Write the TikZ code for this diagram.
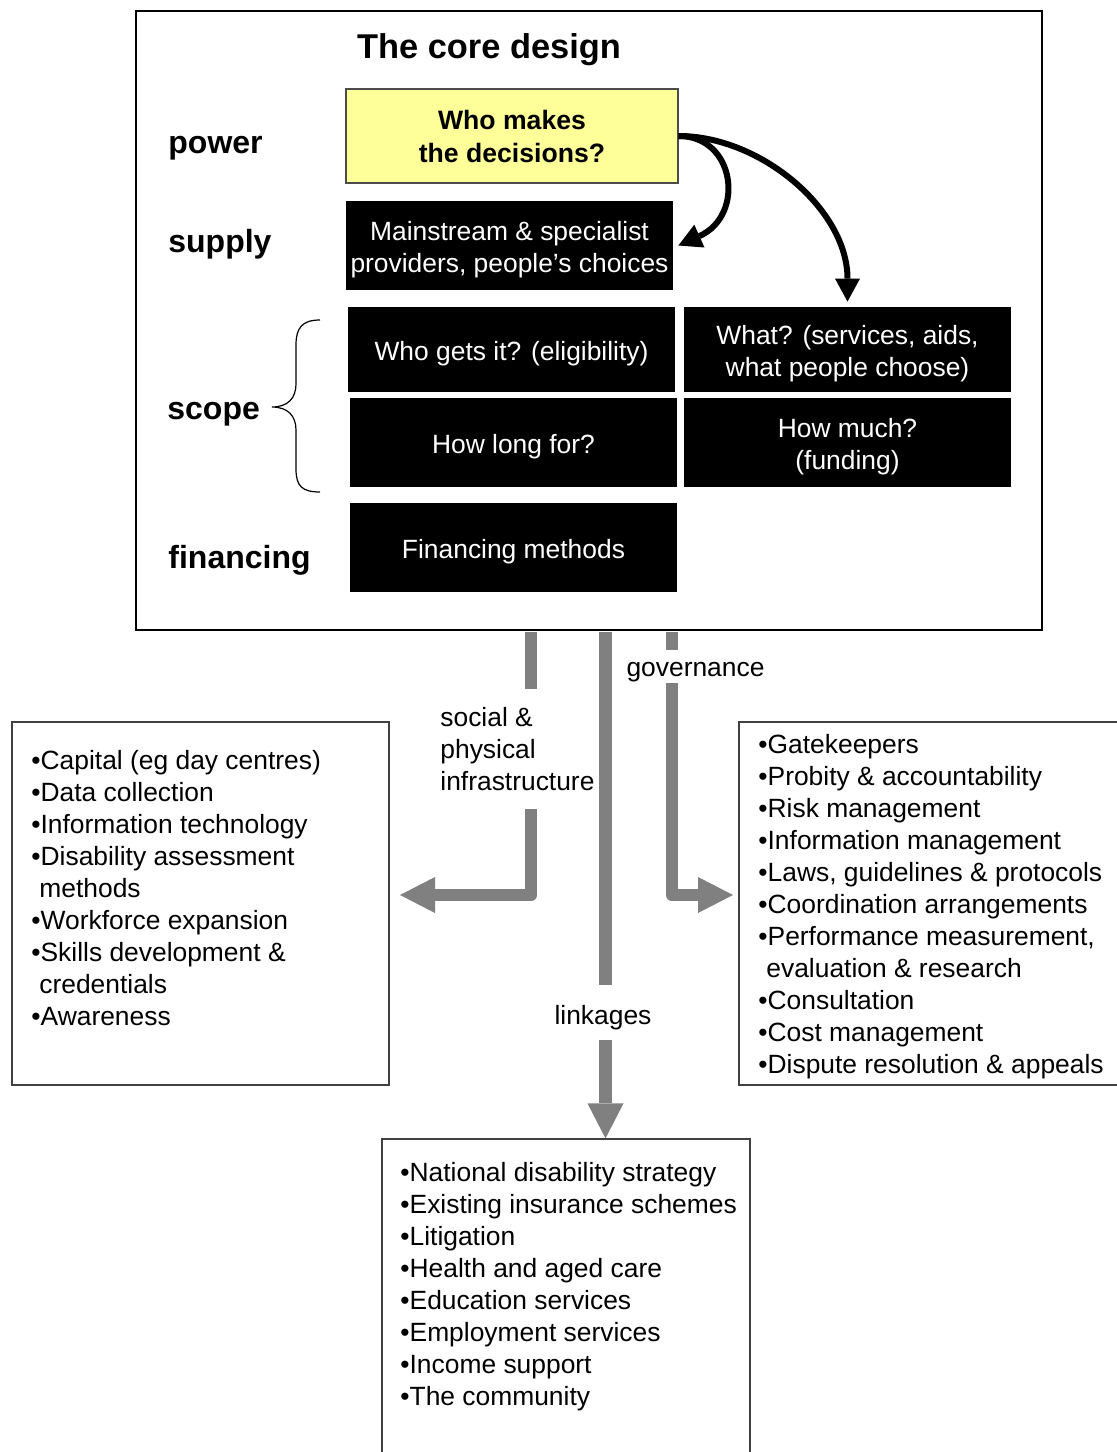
\documentclass[tikz,border=0pt]{standalone}
\usepackage{fontspec}
\setmainfont{Liberation Sans}
\usetikzlibrary{arrows.meta}
\definecolor{gline}{RGB}{128,128,128}
\definecolor{ybox}{RGB}{255,255,153}
\newcommand\fsbox{\fontsize{13.2pt}{16pt}\selectfont}
\newcommand\fstitle{\fontsize{17.2pt}{20pt}\selectfont\bfseries}
\newcommand\fslabel{\fontsize{16pt}{19pt}\selectfont\bfseries}
\newcommand\fsyellow{\fontsize{13.3pt}{16.5pt}\selectfont\bfseries}
\begin{document}
\begin{tikzpicture}[x=0.5pt,y=-0.5pt,
  frame/.style={draw=black,line width=1pt,inner sep=0pt},
  titletxt/.style={inner sep=0pt,font=\fstitle},
  rowlabel/.style={inner sep=0pt,font=\fslabel},
  yellowbox/.style={draw=black!70,line width=0.6pt,fill=ybox,inner sep=0pt,align=center,font=\fsyellow},
  blackbox/.style={fill=black,text=white,inner sep=0pt,minimum width=163.5pt,align=center,font=\fsbox},
  oneline/.style={text height=13.4pt},
  twoline/.style={text height=29.4pt},
  curvearrow/.style={line width=3pt,-{Triangle[length=11.5pt,width=12.5pt,line width=0pt]}},
  conlabel/.style={inner sep=0pt,font=\fsbox},
  gconn/.style={draw=gline,line width=6.25pt,line join=round},
  garrow/.style={-{Triangle[length=17.5pt,width=18pt,line width=0pt]}},
  listbox/.style={draw=black!75,line width=0.6pt,inner sep=0pt},
  listtext/.style={inner sep=0pt,font=\fsbox}]
\useasboundingbox (0,0) rectangle (1117,1452);
\clip (0,0) rectangle (1117,1452);
\fill[white] (0,0) rectangle (1117,1452);

% core frame
\node[frame,minimum width=453pt,minimum height=309.5pt] (core) at (589,320.5) {};
\node[titletxt,anchor=base] (title) at (489,58) {The core design};

\node[rowlabel,anchor=base west] (lpower) at (168,153) {power};
\node[rowlabel,anchor=base west] (lsupply) at (168,252) {supply};
\node[rowlabel,anchor=base west] (lscope) at (167,419) {scope};
\node[rowlabel,anchor=base west] (lfin) at (168,568) {financing};

\node[yellowbox,minimum width=166pt,minimum height=47pt] (who) at (512,136) {Who makes\\the decisions?};
\node[blackbox,twoline,minimum height=44.5pt] (supply) at (509.5,245.5) {Mainstream \& specialist\\providers, people’s choices};
\node[blackbox,oneline,minimum height=42.5pt] (elig) at (511.5,349.5) {Who gets it? (eligibility)};
\node[blackbox,twoline,minimum height=42.5pt] (what) at (847.5,349.5) {What? (services, aids,\\what people choose)};
\node[blackbox,oneline,minimum height=44.5pt] (howlong) at (513.5,442.5) {How long for?};
\node[blackbox,twoline,minimum height=44.5pt] (howmuch) at (847.5,442.5) {How much?\\(funding)};
\node[blackbox,oneline,minimum height=44.5pt] (fin) at (513.5,547.5) {Financing methods};

% brace
\draw[line width=0.6pt] (320,320) .. controls (302,320) and (296,328) .. (296,345) -- (296,384)
  .. controls (296,398) and (288,407) .. (272,407)
  .. controls (288,407) and (296,416) .. (296,430) -- (296,469)
  .. controls (296,486) and (302,492) .. (320,492);

% curved arrows
\draw[curvearrow] (who.east) .. controls +(57,0) and +(67,-30) .. ([xshift=2.5pt]supply.east);
\draw[curvearrow] (who.east) .. controls +(82,0) and +(0,-92) .. ([yshift=2.5pt]what.north);

% outer boxes
\node[listbox,minimum width=188.5pt,minimum height=181.5pt] (leftbox) at (200.5,903.5) {};
\node[listbox,minimum width=195.5pt,minimum height=181.5pt] (rightbox) at (934.5,903.5) {};
\node[listbox,minimum width=184pt,minimum height=165.5pt] (botbox) at (566,1304.5) {};

\node[listtext,anchor=north west] (leftlist) at (31,747) {\begin{tabular}{@{}l@{}}
•Capital (eg day centres)\\
•Data collection\\
•Information technology\\
•Disability assessment\\
\hspace{4pt}methods\\
•Workforce expansion\\
•Skills development \&\\
\hspace{4pt}credentials\\
•Awareness
\end{tabular}};

\node[listtext,anchor=north west] (rightlist) at (758,731) {\begin{tabular}{@{}l@{}}
•Gatekeepers\\
•Probity \& accountability\\
•Risk management\\
•Information management\\
•Laws, guidelines \& protocols\\
•Coordination arrangements\\
•Performance measurement,\\
\hspace{4pt}evaluation \& research\\
•Consultation\\
•Cost management\\
•Dispute resolution \& appeals
\end{tabular}};

\node[listtext,anchor=north west] (botlist) at (400,1159) {\begin{tabular}{@{}l@{}}
•National disability strategy\\
•Existing insurance schemes\\
•Litigation\\
•Health and aged care\\
•Education services\\
•Employment services\\
•Income support\\
•The community
\end{tabular}};

% connector labels
\node[conlabel,align=left,anchor=west,minimum height=60pt] (lsoc) at (440,749) {social \&\\physical\\infrastructure};
\node[conlabel,minimum height=16.5pt,text height=12.3pt] (lgov) at (695.5,666.5) {governance};
\node[conlabel,minimum height=27.5pt,text height=14.5pt] (llink) at (603,1012.5) {linkages};

\coordinate (xS) at (531,0);
\coordinate (xG) at (672,0);
\coordinate (xL) at (605.5,0);
\coordinate (tipL) at (400,895);
\coordinate (tipR) at (733,895);

\draw[gconn] ([yshift=-0.5pt]core.south -| xS) -- (lsoc.north -| xS);
\draw[gconn,garrow] (lsoc.south -| xS) |- (tipL);
\draw[gconn] ([yshift=-0.5pt]core.south -| xG) -- (lgov.north -| xG);
\draw[gconn,garrow] (lgov.south -| xG) |- (tipR);
\draw[gconn] ([yshift=-0.5pt]core.south -| xL) -- (llink.north -| xL);
\draw[gconn,garrow] (llink.south -| xL) -- (botbox.north -| xL);
\end{tikzpicture}
\end{document}
